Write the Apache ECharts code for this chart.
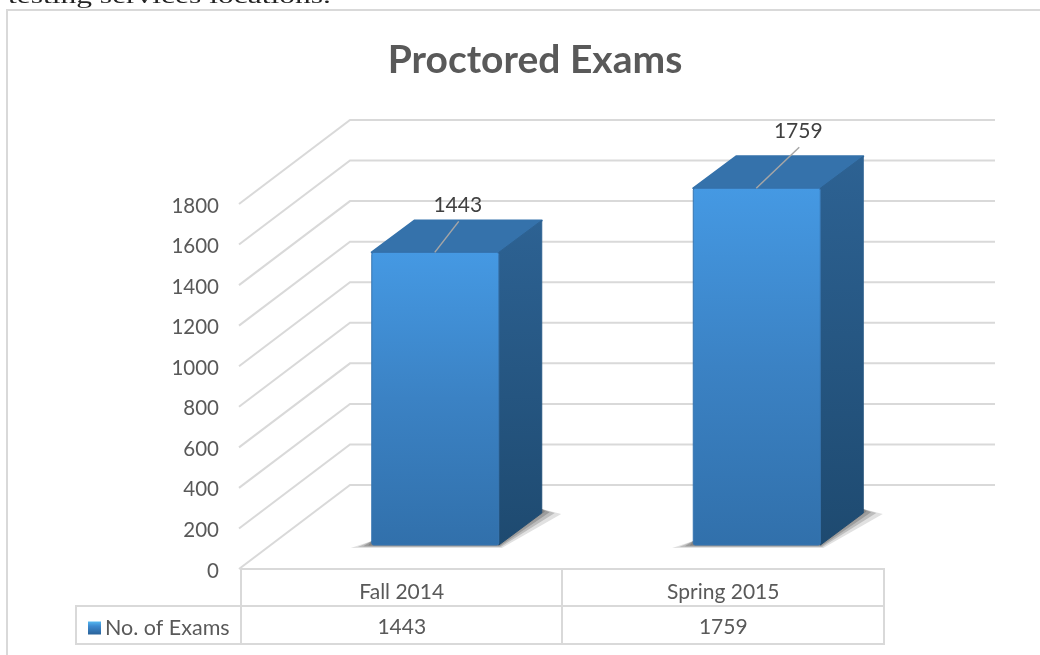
<!DOCTYPE html>
<html>
<head>
<meta charset="utf-8">
<style>html,body{margin:0;padding:0;background:#fff}#chart{width:1040px;height:655px}</style>
<script src="https://cdn.jsdelivr.net/npm/echarts@6/dist/echarts.min.js"></script>
</head>
<body>
<div id="chart"></div>
<script>
const categories = ['Fall 2014', 'Spring 2015'];
const exams = [1443, 1759];
const yTicks = [0, 200, 400, 600, 800, 1000, 1200, 1400, 1600, 1800];
const seriesName = 'No. of Exams';

const FONT = 'Lato';
const TXT = '#595959';
const GRID = '#d9d9d9';
// fake 3d: pixel offsets of the box
const BACK = [109, -84]; // front corner of the floor to its back corner
const BAR_FRONT = [33.5, -24]; // floor edge to the bar's front face
const BAR_DEPTH = [43, -32];
const BAR_W = 127;
const LEADERS = [[24, -31], [43, -41]]; // data label leader line per bar
const SHADOW_STEPS = [[1.5, 0.2], [1, 0.3], [0.6, 0.4], [0.25, 0.5]]; // spread, opacity of the soft floor shadow

const myChart = echarts.init(document.getElementById('chart'), null, { renderer: 'canvas' });

const option = {
  animation: false,
  backgroundColor: '#fff',
  title: {
    text: 'Proctored Exams',
    left: 530,
    top: 36,
    textAlign: 'center',
    textStyle: { fontFamily: FONT, fontWeight: 'bold', fontSize: 39, color: TXT },
  },
  legend: {
    left: 83,
    top: 612,
    itemWidth: 13,
    itemHeight: 13,
    itemGap: 6,
    icon: 'rect',
    data: [seriesName],
    textStyle: { fontFamily: FONT, fontSize: 21.5, color: TXT, padding: [0, 0, 0, -1] },
    itemStyle: {
      color: new echarts.graphic.LinearGradient(0, 0, 0, 1, [
        { offset: 0, color: '#55b8f0' },
        { offset: 0.35, color: '#3d8ad0' },
        { offset: 1, color: '#2a6299' },
      ]),
    },
  },
  grid: { left: 241, width: 643, top: 204, height: 365 },
  xAxis: [
    {
      type: 'category',
      data: categories,
      axisLine: { show: false },
      axisTick: { show: false },
      axisLabel: { fontFamily: FONT, fontSize: 21, color: TXT, margin: 13 },
    },
    {
      type: 'category',
      position: 'bottom',
      offset: 37,
      data: exams.map(String),
      axisLine: { show: false },
      axisTick: { show: false },
      axisLabel: { fontFamily: FONT, fontSize: 21, color: TXT, margin: 11 },
    },
  ],
  yAxis: {
    type: 'value',
    min: 0,
    max: 1800,
    interval: 200,
    axisLine: { show: false },
    axisTick: { show: false },
    splitLine: { show: false },
    axisLabel: {
      margin: 22,
      formatter: v => '{v|' + v + '}',
      rich: { v: { fontFamily: FONT, fontSize: 20.5, color: TXT, padding: [4, 0, 0, 0] } },
    },
  },
  // the frame, the table and the page text above the chart
  graphic: [
    {
      type: 'text', x: 8, y: 8, scaleX: 1.5, silent: true,
      style: { text: 'testing services locations.', font: '21px "Liberation Serif"', fill: '#222', verticalAlign: 'bottom' },
    },
    {
      type: 'rect', shape: { x: 7, y: 10, width: 1060, height: 700 }, silent: true,
      style: { fill: 'none', stroke: GRID, lineWidth: 2 },
    },
    {
      type: 'polyline', shape: { points: [[241, 569], [884, 569], [884, 644], [76, 644], [76, 606], [884, 606]] },
      silent: true, style: { fill: 'none', stroke: GRID, lineWidth: 2 },
    },
    { type: 'line', shape: { x1: 241, y1: 569, x2: 241, y2: 644 }, silent: true, style: { stroke: GRID, lineWidth: 2 } },
    { type: 'line', shape: { x1: 562, y1: 569, x2: 562, y2: 644 }, silent: true, style: { stroke: GRID, lineWidth: 2 } },
  ],
  series: [
    {
      name: 'walls',
      type: 'custom',
      coordinateSystem: 'cartesian2d',
      silent: true,
      z: 1,
      data: yTicks.map(v => [0, v]),
      renderItem(params, api) {
        const p = api.coord([0, api.value(1)]);
        const right = params.coordSys.x + params.coordSys.width;
        const x0 = params.coordSys.x;
        return {
          type: 'polyline',
          shape: { points: [[x0 - 2, p[1]], [x0 + BACK[0], p[1] + BACK[1]], [right + BACK[0] + 2, p[1] + BACK[1]]] },
          style: { fill: 'none', stroke: GRID, lineWidth: 2 },
        };
      },
    },
    {
      name: seriesName,
      type: 'custom',
      coordinateSystem: 'cartesian2d',
      z: 3,
      data: exams.map((v, i) => [i, v]),
      renderItem(params, api) {
        const base = api.coord([api.value(0), 0]);
        const top = api.coord([api.value(0), api.value(1)]);
        const l = base[0] + BAR_FRONT[0] - BAR_W / 2;
        const r = l + BAR_W;
        const b = base[1] + BAR_FRONT[1];
        const t = top[1] + BAR_FRONT[1];
        const dx = BAR_DEPTH[0];
        const dy = BAR_DEPTH[1];
        const front = new echarts.graphic.LinearGradient(0, 0, 0, 1, [
          { offset: 0, color: '#4599e3' },
          { offset: 0.5, color: '#3b82c4' },
          { offset: 1, color: '#3170ab' },
        ]);
        const side = new echarts.graphic.LinearGradient(0, 0, 0, 1, [
          { offset: 0, color: '#2d6293' },
          { offset: 1, color: '#1e4a70' },
        ]);
        const leader = LEADERS[params.dataIndex];
        const lx = l + 63;
        // soft shadow on the floor, built up from a few see-through layers
        const shadows = SHADOW_STEPS.map(([s, o]) => ({
          type: 'polygon',
          shape: {
            points: [
              [l - 14 * s, b + 2 * s], [r + 2 * s, b + 2 * s],
              [r + dx + 13 * s, b + dy - 2 + 2 * s], [r + dx, b + dy - 4], [r, b - 4], [l, b - 4],
            ],
          },
          style: { fill: '#6b6b6b', opacity: o },
          z2: 0,
        }));
        return {
          type: 'group',
          children: [
            ...shadows,
            {
              type: 'polygon',
              shape: { points: [[l, t], [l + dx, t + dy], [r + dx, t + dy], [r, t]] },
              style: { fill: '#3572ab', stroke: '#3572ab', lineWidth: 2, lineJoin: 'round' },
              z2: 1,
            },
            {
              type: 'polygon',
              shape: { points: [[r, t], [r + dx, t + dy], [r + dx, b + dy], [r, b]] },
              style: { fill: side, stroke: side, lineWidth: 1, lineJoin: 'round' },
              z2: 2,
            },
            {
              type: 'rect',
              shape: { x: l, y: t, width: BAR_W, height: b - t, r: 2 },
              style: { fill: front, stroke: '#3674b0', lineWidth: 1 },
              z2: 3,
            },
            {
              type: 'line',
              shape: { x1: lx, y1: t, x2: lx + leader[0], y2: t + leader[1] },
              style: { stroke: '#a6a6a6', lineWidth: 1.5 },
              z2: 4,
            },
            {
              type: 'text',
              style: {
                text: String(api.value(1)),
                x: lx + leader[0] - 1,
                y: t + leader[1] - 16,
                align: 'center',
                verticalAlign: 'middle',
                font: '21px ' + FONT,
                fill: '#404040',
              },
              z2: 5,
            },
          ],
        };
      },
    },
  ],
};
myChart.setOption(option);
</script>
</body>
</html>
